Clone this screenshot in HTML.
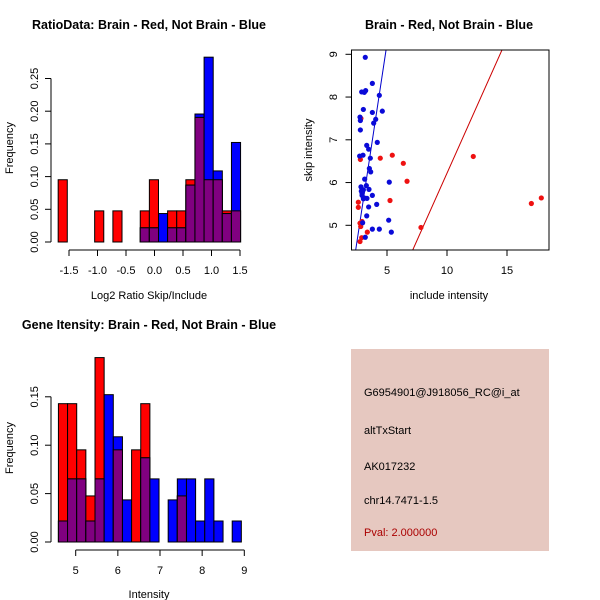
<!DOCTYPE html>
<html><head><meta charset="utf-8">
<style>
html,body{margin:0;padding:0;background:#fff;}
svg{display:block;font-family:"Liberation Sans",sans-serif;}
</style></head>
<body>
<svg id="c" width="600" height="600" viewBox="0 0 600 600" xmlns="http://www.w3.org/2000/svg">
<rect x="0" y="0" width="600" height="600" fill="#fff"/>
</svg>
<script>
// ---- Ratio histogram data ----
const ratioBinStart = -1.69;
const ratioBinWidth = 0.16;
const ratioRed  = [0.0952,0,0,0,0.0476,0,0.0476,0,0,0.0476,0.0952,0,0.0476,0.0476,0.0952,0.1905,0.0952,0.0952,0.0476,0.0476];
const ratioBlue = [0,0,0,0,0,0,0,0,0,0.0217,0.0217,0.0435,0.0217,0.0217,0.087,0.1957,0.2826,0.1087,0.0435,0.1522];
const ratioXTicks = [-1.5,-1.0,-0.5,0.0,0.5,1.0,1.5];
const ratioXLabels = ["-1.5","-1.0","-0.5","0.0","0.5","1.0","1.5"];
const ratioYTicks = [0,0.05,0.10,0.15,0.20,0.25];
const ratioYLabels = ["0.00","0.05","0.10","0.15","0.20","0.25"];
// ---- Intensity histogram data ----
const intBinStart = 4.59;
const intBinWidth = 0.217;
const intRed  = [0.1429,0.1429,0.0952,0.0476,0.1905,0,0.0952,0,0.0952,0.1429,0,0,0,0.0476,0,0,0,0,0,0];
const intBlue = [0.0217,0.0652,0.0652,0.0217,0.0652,0.1522,0.1087,0.0435,0,0.087,0.0652,0,0.0435,0.0652,0.0652,0.0217,0.0652,0.0217,0,0.0217];
const intXTicks = [5,6,7,8,9];
const intXLabels = ["5","6","7","8","9"];
const intYTicks = [0,0.05,0.10,0.15];
const intYLabels = ["0.00","0.05","0.10","0.15"];
// ---- Scatter data ----
const blueX = [3.19,3.78,2.89,3.22,3.11,4.36,3.03,3.78,4.61,4.06,3.89,2.75,2.78,2.78,4.19,3.31,3.47,3.61,2.72,3.0,3.53,3.64,3.14,2.83,3.28,3.5,3.03,2.92,3.11,3.33,3.78,5.19,4.14,3.47,3.31,5.14,2.97,3.78,4.36,5.36,3.19,2.86,2.92,3.03];
const blueY = [8.93,8.32,8.12,8.15,8.11,8.04,7.71,7.64,7.67,7.48,7.39,7.53,7.45,7.23,6.94,6.87,6.78,6.57,6.62,6.64,6.33,6.25,6.08,5.90,5.93,5.84,5.83,5.75,5.64,5.63,5.70,6.01,5.49,5.43,5.22,5.12,5.06,4.91,4.91,4.84,4.72,5.80,5.70,5.62];
const redX = [2.83,2.78,4.44,5.44,6.36,6.67,5.25,2.61,2.61,2.75,2.81,2.92,7.83,3.36,2.89,2.75,12.19,17.03,17.86];
const redY = [7.50,6.54,6.57,6.64,6.45,6.03,5.58,5.54,5.42,5.05,4.97,5.09,4.95,4.84,4.71,4.62,6.61,5.51,5.64];
const blueLine = [2.39,4.42,4.92,9.1];
const redLine = [7.14,4.42,14.58,9.1];
const scXTicks = [5,10,15];
const scYTicks = [5,6,7,8,9];

const svg = document.getElementById('c');
const NS = 'http://www.w3.org/2000/svg';
function mk(tag, attrs, parent){
  const e = document.createElementNS(NS, tag);
  for (const k in attrs) e.setAttribute(k, attrs[k]);
  (parent||svg).appendChild(e);
  return e;
}
function txt(x,y,s,opts,parent){
  const e = mk('text',Object.assign({x:x,y:y,'font-size':11,fill:'#000','text-anchor':'middle'},opts||{}),parent);
  e.textContent = s;
  return e;
}

function hist(name, g, start, w, red, blue, sx, sy, y0){
  for (let i=0;i<red.length;i++){
    const x0 = sx(start+i*w), x1 = sx(start+(i+1)*w);
    const r = red[i], b = blue[i];
    if (r>0){
      const e = mk('rect',{x:x0,y:sy(r),width:x1-x0,height:y0-sy(r),fill:'#ff0000',stroke:'#000','stroke-width':1},g);
      
      
    }
    if (b>0){
      const e = mk('rect',{x:x0,y:sy(b),width:x1-x0,height:y0-sy(b),fill:'#0000ff',stroke:'#000','stroke-width':1},g);
      
      
    }
    const m = Math.min(r,b);
    if (m>0){
      const e = mk('rect',{x:x0,y:sy(m),width:x1-x0,height:y0-sy(m),fill:'#800080',stroke:'#000','stroke-width':1},g);
      
      
    }
  }
}
function axes(g, name, xt, xl, sx, xAxisY, yt, yl, sy, yAxisX){
  const xa = mk('g',{},g);
  
  
  mk('line',{x1:sx(xt[0]),x2:sx(xt[xt.length-1]),y1:xAxisY,y2:xAxisY,stroke:'#000'},xa);
  xt.forEach((v,i)=>{
    mk('line',{x1:sx(v),x2:sx(v),y1:xAxisY,y2:xAxisY+6,stroke:'#000'},xa);
    const t = txt(sx(v),xAxisY+24,xl[i],{},xa);
    
    
  });
  const ya = mk('g',{},g);
  
  
  mk('line',{x1:yAxisX,x2:yAxisX,y1:sy(yt[0]),y2:sy(yt[yt.length-1]),stroke:'#000'},ya);
  yt.forEach((v,i)=>{
    mk('line',{x1:yAxisX-6,x2:yAxisX,y1:sy(v),y2:sy(v),stroke:'#000'},ya);
    const t = txt(yAxisX-13,sy(v),yl[i],{transform:'rotate(-90 '+(yAxisX-13)+' '+sy(v)+')'},ya);
    
    
  });
}

// Panel 1
const g1 = mk('g',{});


const sx1 = v => 69 + (v+1.5)*57;
const sy1 = v => 242 - v*654;
hist('ratio', g1, ratioBinStart, ratioBinWidth, ratioRed, ratioBlue, sx1, sy1, 242);
axes(g1,'ratio',ratioXTicks,ratioXLabels,sx1,250,ratioYTicks,ratioYLabels,sy1,51);
let t = txt(149,29,'RatioData: Brain - Red, Not Brain - Blue',{'font-weight':'bold','font-size':12.5},g1);
 
t = txt(149,299,'Log2 Ratio Skip/Include',{},g1);
 
t = txt(13,148,'Frequency',{transform:'rotate(-90 13 148)'},g1);
 

// Panel 3
const g3 = mk('g',{});


const sx3 = v => 75.7 + (v-5)*42.15;
const sy3 = v => 542 - v*968;
hist('intensity', g3, intBinStart, intBinWidth, intRed, intBlue, sx3, sy3, 542);
axes(g3,'intensity',intXTicks,intXLabels,sx3,550,intYTicks,intYLabels,sy3,51);
t = txt(149,329,'Gene Itensity: Brain - Red, Not Brain - Blue',{'font-weight':'bold','font-size':12.5},g3);
 
t = txt(149,598,'Intensity',{},g3);
 
t = txt(13,448,'Frequency',{transform:'rotate(-90 13 448)'},g3);
 

// Panel 2 scatter
const g2 = mk('g',{});


const sx2 = v => 327 + v*12;
const sy2 = v => 225.3 - (v-5)*42.75;
const cp = mk('clipPath',{id:'clip2'},g2);
mk('rect',{x:352,y:50,width:197,height:200},cp);
const pg = mk('g',{'clip-path':'url(#clip2)'},g2);
let l = mk('line',{x1:sx2(blueLine[0]),y1:sy2(blueLine[1]),x2:sx2(blueLine[2]),y2:sy2(blueLine[3]),stroke:'#0000cc','stroke-width':1},pg);
 
l = mk('line',{x1:sx2(redLine[0]),y1:sy2(redLine[1]),x2:sx2(redLine[2]),y2:sy2(redLine[3]),stroke:'#cc0000','stroke-width':1},pg);
 
redX.forEach((x,i)=>{
  const c = mk('circle',{cx:sx2(x),cy:sy2(redY[i]),r:2.6,fill:'#ee1111'},pg);
  
  
});
blueX.forEach((x,i)=>{
  const c = mk('circle',{cx:sx2(x),cy:sy2(blueY[i]),r:2.6,fill:'#0a0ad8'},pg);
  
  
});
const box = mk('rect',{x:351.5,y:50,width:197.5,height:200,fill:'none',stroke:'#000'},g2);
 
scXTicks.forEach(v=>{
  mk('line',{x1:sx2(v),x2:sx2(v),y1:250,y2:256,stroke:'#000'},g2);
  const e = txt(sx2(v),274,String(v),{},g2);
   
});
scYTicks.forEach(v=>{
  mk('line',{x1:345.5,x2:351.5,y1:sy2(v),y2:sy2(v),stroke:'#000'},g2);
  const e = txt(337,sy2(v),String(v),{transform:'rotate(-90 337 '+sy2(v)+')'},g2);
   
});
t = txt(449,29,'Brain - Red, Not Brain - Blue',{'font-weight':'bold','font-size':12.5},g2);
 
t = txt(449,299,'include intensity',{},g2);
 
t = txt(312,150,'skip intensity',{transform:'rotate(-90 312 150)'},g2);
 

// Panel 4 info box
const g4 = mk('g',{});


mk('rect',{x:351,y:349,width:198,height:202,fill:'#e6c8c0'},g4);
const infoLines = ['G6954901@J918056_RC@i_at','altTxStart','AK017232','chr14.7471-1.5'];
const infoY = [396,434,470,504];
infoLines.forEach((s,i)=>{
  const e = txt(364,infoY[i],s,{'text-anchor':'start'},g4);
  
  
});
t = txt(364,536,'Pval: 2.000000',{'text-anchor':'start',fill:'#aa0000'},g4);
 
</script>
</body></html>
